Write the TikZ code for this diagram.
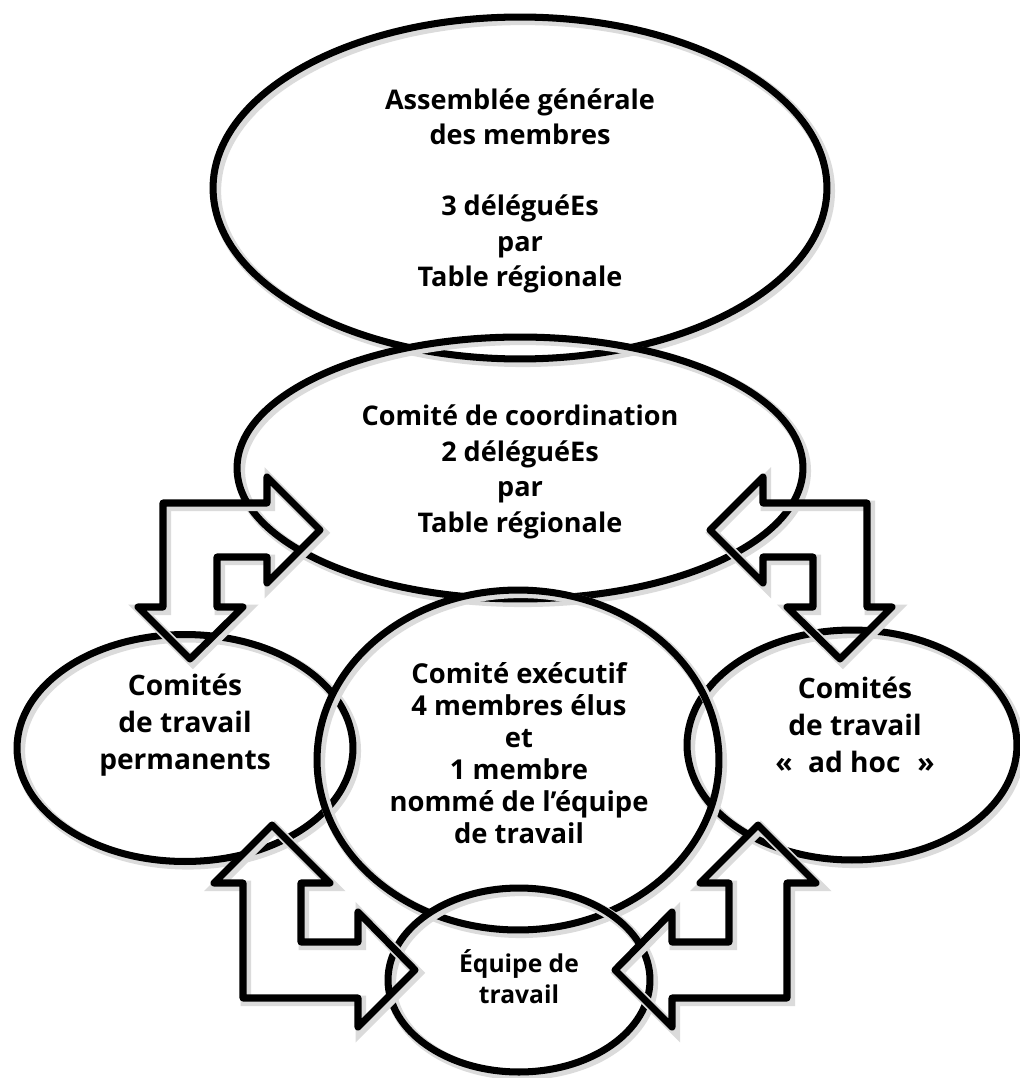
\documentclass[tikz,border=0pt]{standalone}
\usepackage{fontspec}
\setmainfont{Open Sans}
\usetikzlibrary{shapes.geometric}

\begin{document}
\begin{tikzpicture}[x=0.02cm,y=-0.02cm,font=\bfseries\fontsize{15.4}{20.2}\selectfont]
\tikzset{
  softshadow/.style={preaction={draw=black!14,line width=6pt,transform canvas={xshift=1.6pt,yshift=-1.6pt}}},
  bubble/.style={ellipse,draw=black,line width=4pt,inner sep=0pt,softshadow},
  txt/.style={align=center,inner sep=0pt},
  blockarrow/.style={draw=black,line width=4pt,line join=round,softshadow}
}
\useasboundingbox (0,0) rectangle (1020,1078);

% helper for the bent arrows (mirror with #1 = 1 or -1)
\newcommand{\upperarrow}[1]{%
\begin{scope}[shift={(515,0)},xscale=#1]
  \draw[blockarrow] (-195,530) -- (-248,583) -- (-248,557) -- (-298,557)
    -- (-298,607) -- (-272,607) -- (-325,659) -- (-377,607) -- (-352,607)
    -- (-352,503) -- (-248,503) -- (-248,477) -- cycle;
\end{scope}
}
\newcommand{\lowerarrow}[1]{%
\begin{scope}[shift={(515,0)},xscale=#1]
  \draw[blockarrow] (-100,970) -- (-157,1027) -- (-157,998) -- (-272,998)
    -- (-272,883) -- (-301,883) -- (-243,825) -- (-185,883) -- (-214,883)
    -- (-214,942) -- (-157,942) -- (-157,912) -- cycle;
\end{scope}
}

% ------ ellipses ------
\node[bubble,minimum width=12.28cm,minimum height=6.84cm] (ag) at (520,188) {};
\node[bubble,minimum width=11.32cm,minimum height=5.24cm] (coord) at (520,468) {};
\node[bubble,minimum width=6.72cm,minimum height=4.54cm] (perm) at (185,748) {};
\node[bubble,minimum width=6.6cm,minimum height=4.6cm] (adhoc) at (852,745) {};
\node[bubble,minimum width=8.04cm,minimum height=6.8cm] (exec) at (518,760) {};
\node[bubble,minimum width=5.24cm,minimum height=3.68cm] (equipe) at (519,980) {};

% ------ arrows ------
\upperarrow{1}
\upperarrow{-1}
\lowerarrow{1}
\lowerarrow{-1}

% ------ texts ------
\node[txt] (agtxt) at (520,191) {Assemblée générale\\des membres\\[20.2pt]3 déléguéEs\\par\\Table régionale};
\node[txt] (coordtxt) at (520,472) {Comité de coordination\\2 déléguéEs\\par\\Table régionale};
\node[txt,font=\bfseries\fontsize{16}{21.2}\selectfont] (permtxt) at (185,725) {Comités\\de travail\\permanents};
\node[txt,font=\bfseries\fontsize{16}{21.2}\selectfont] (adhoctxt) at (855,725) {Comités\\de travail\\«\hspace{0.55em}ad hoc\hspace{0.6em}»};
\node[txt,font=\bfseries\fontsize{15.6}{18.2}\selectfont] (exectxt) at (519,753) {Comité exécutif\\4 membres élus\\et\\1 membre\\nommé de l’équipe\\de travail};
\node[txt,font=\bfseries\fontsize{14}{17.6}\selectfont] (equipetxt) at (519,977) {Équipe de\\travail};
\end{tikzpicture}
\end{document}
